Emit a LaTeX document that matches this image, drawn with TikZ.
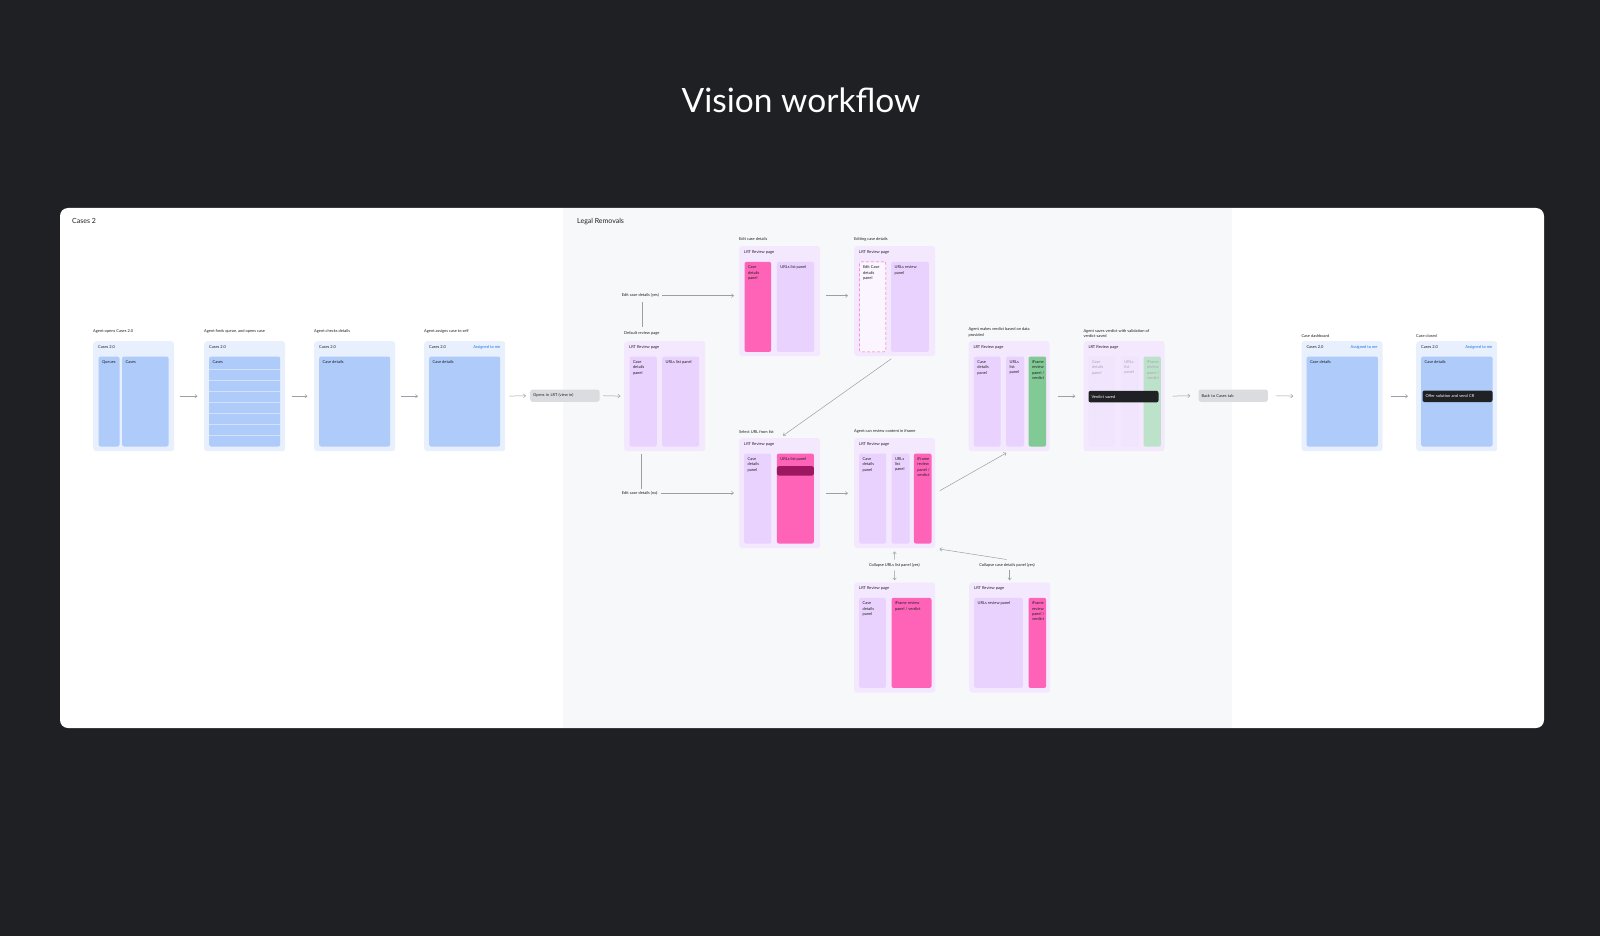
\documentclass[tikz,border=0pt]{standalone}
\usepackage{fontspec}
\setmainfont{Lato}
\usetikzlibrary{arrows.meta, positioning, calc}
\definecolor{canvas}{HTML}{1F2024}
\definecolor{legalbg}{HTML}{F7F8FA}
\definecolor{cardblue}{HTML}{E8F0FE}
\definecolor{panelblue}{HTML}{AECBFA}
\definecolor{cardlilac}{HTML}{F3E8FD}
\definecolor{panellilac}{HTML}{E9D2FD}
\definecolor{fadelilac}{HTML}{F1E4FD}
\definecolor{hotpink}{HTML}{FF63B8}
\definecolor{deeppink}{HTML}{9C1660}
\definecolor{verdictgreen}{HTML}{81C995}
\definecolor{fadegreen}{HTML}{BCE2C9}
\definecolor{ink}{HTML}{202124}
\definecolor{fadeink}{HTML}{ADA3B8}
\definecolor{btngray}{HTML}{DADCE0}
\definecolor{linkgray}{HTML}{9AA0A6}
\definecolor{gblue}{HTML}{1A73E8}

\begin{document}
\begin{tikzpicture}[
    x=1pt, y=-1pt,
    font=\fontsize{4}{5.3}\selectfont,
    card/.style   ={anchor=north west, inner sep=0pt, minimum width=81pt,
                    minimum height=110pt, rounded corners=3pt},
    bcard/.style  ={card, fill=cardblue},
    pcard/.style  ={card, fill=cardlilac},
    ctitle/.style ={anchor=north west, inner xsep=5pt, inner ysep=4.5pt, text=ink},
    ctag/.style   ={anchor=north east, inner xsep=5pt, inner ysep=4.5pt, text=gblue},
    clabel/.style ={anchor=west, inner sep=0pt, text=ink, align=left},
    panel/.style  ={anchor=north west, inner sep=0pt, minimum height=90pt,
                    rounded corners=2pt},
    bpanel/.style ={panel, fill=panelblue},
    lpanel/.style ={panel, fill=panellilac},
    hpanel/.style ={panel, fill=hotpink},
    gpanel/.style ={panel, fill=verdictgreen},
    dpanel/.style ={panel, fill=white!55!cardlilac, draw=hotpink,
                    densely dashed, line width=0.45pt},
    ptext/.style  ={anchor=north west, align=left, inner xsep=3.5pt,
                    inner ysep=4pt, text=ink},
    bar/.style    ={anchor=north west, inner xsep=3pt, inner ysep=0pt,
                    minimum height=11.5pt, rounded corners=2pt, align=left,
                    fill=ink, text=white},
    btn/.style    ={bar, fill=btngray, text=ink, minimum height=12.3pt,
                    rounded corners=2.5pt},
    seclabel/.style={anchor=west, inner sep=0pt, text=ink,
                    font=\fontsize{7}{8}\selectfont},
    flow/.style   ={-{Straight Barb[length=2.2pt, width=3.6pt]},
                    draw=linkgray, line width=0.5pt},
    link/.style   ={draw=linkgray, line width=0.5pt},
  ]
  \useasboundingbox (0,0) rectangle (1600,936);
  \fill[canvas] (0,0) rectangle (1600,936);

  % ---- title and sheet ----
  \node[text=white, font=\fontsize{33.5}{40}\selectfont] (title) at (801,100) {Vision workflow};
  \fill[white, rounded corners=8pt] (60,208) rectangle (1544,728);
  \fill[legalbg] (563,208) rectangle (1232,728);
  \node[seclabel] (casessec) at (72,221) {Cases 2};
  \node[seclabel] (legalsec) at (577,222) {Legal Removals};

  % ---- Cases 2: opening the case ----
  \node[clabel] (openlbl) at (93,331) {Agent opens Cases 2.0};
  \node[bcard, label={[ctitle]north west:Cases 2.0}] (opencard) at (93,341) {};
  \node[bpanel, minimum width=21pt, label={[ptext]north west:Queues}] (queues) at (98.3,356.3) {};
  \node[bpanel, minimum width=46.3pt, label={[ptext]north west:Cases}] (caselist) at (122,356.3) {};

  \node[clabel] (findlbl) at (204,331) {Agent finds queue, and opens case};
  \node[bcard, label={[ctitle]north west:Cases 2.0}] (findcard) at (204,341) {};
  \node[bpanel, minimum width=71pt, label={[ptext]north west:Cases}] (findpanel) at (209,356.3) {};
  \foreach \y in {369.3,380.3,...,436}
    \draw[white!45!panelblue, line width=0.3pt] (findpanel.west |- 0,\y) -- (findpanel.east |- 0,\y);

  \node[clabel] (checklbl) at (314,331) {Agent checks details};
  \node[bcard, label={[ctitle]north west:Cases 2.0}] (checkcard) at (314,341) {};
  \node[bpanel, minimum width=71pt, label={[ptext]north west:Case details}] (checkpanel) at (319,356.3) {};

  \node[clabel] (assignlbl) at (424,331) {Agent assigns case to self};
  \node[bcard, label={[ctitle]north west:Cases 2.0},
        label={[ctag]north east:Assigned to me}] (assigncard) at (424,341) {};
  \node[bpanel, minimum width=71pt, label={[ptext]north west:Case details}] (assignpanel) at (429,356.3) {};

  \node[btn, text width=63.5pt] (viewbtn) at (530,389.3) {Opens in LRT (view in)};

  \draw[flow, shorten <=6pt, shorten >=6.5pt] (opencard.east) -- (findcard.west);
  \draw[flow, shorten <=6.5pt, shorten >=6.5pt] (findcard.east) -- (checkcard.west);
  \draw[flow, shorten <=6pt, shorten >=6pt] (checkcard.east) -- (assigncard.west);
  \draw[flow, shorten <=4pt, shorten >=4pt] (assigncard.east) -- (viewbtn.west);

  % ---- Legal Removals: review pages ----
  \node[clabel] (defaultlbl) at (624,333.7) {Default review page};
  \node[pcard, label={[ctitle]north west:LRT Review page}] (defaultcard) at (624,341) {};
  \node[lpanel, minimum width=27.4pt, label={[ptext]north west:Case\\details\\panel}] (defcase) at (629.3,356.3) {};
  \node[lpanel, minimum width=37pt, label={[ptext]north west:URLs list panel}] (defurls) at (662,356.3) {};

  \node[clabel] (editlbl) at (739,239.3) {Edit case details};
  \node[pcard, label={[ctitle]north west:LRT Review page}] (editcard) at (739,246) {};
  \node[hpanel, minimum width=26.7pt, label={[ptext]north west:Case\\details\\panel}] (editcase) at (744.3,261.7) {};
  \node[lpanel, minimum width=37.3pt, label={[ptext]north west:URLs list panel}] (editurls) at (776.7,261.7) {};

  \node[clabel] (editinglbl) at (854,239.3) {Editing case details};
  \node[pcard, label={[ctitle]north west:LRT Review page}] (editingcard) at (854,246) {};
  \node[dpanel, minimum width=26.4pt, label={[ptext]north west:Edit Case\\details\\panel}] (editingcase) at (859.3,261.7) {};
  \node[lpanel, minimum width=37.7pt, label={[ptext]north west:URLs review\\panel}] (editingurls) at (891,261.7) {};

  \node[clabel] (selectlbl) at (739,431.7) {Select URL from list};
  \node[pcard, label={[ctitle]north west:LRT Review page}] (selectcard) at (739,438) {};
  \node[lpanel, minimum width=27pt, label={[ptext]north west:Case\\details\\panel}] (selcase) at (744,453.3) {};
  \node[hpanel, minimum width=37pt, label={[ptext]north west:URLs list panel}] (selurls) at (776.7,453.3) {};
  \node[panel, fill=deeppink, minimum width=37pt, minimum height=9.3pt] (selrow) at (776.7,466) {};

  \node[clabel] (iframelbl) at (854,431.7) {Agent can review content in iframe};
  \node[pcard, label={[ctitle]north west:LRT Review page}] (iframecard) at (854,438) {};
  \node[lpanel, minimum width=27pt, label={[ptext]north west:Case\\details\\panel}] (ifrcase) at (859,453.3) {};
  \node[lpanel, minimum width=18pt, label={[ptext]north west:URLs\\list\\panel}] (ifrurls) at (891.3,453.3) {};
  \node[hpanel, minimum width=17.6pt, label={[ptext]north west:iFrame\\review\\panel /\\verdict}] (ifrview) at (913.7,453.3) {};

  \node[pcard, label={[ctitle]north west:LRT Review page}] (urlshidden) at (854,582.3) {};
  \node[lpanel, minimum width=26.7pt, label={[ptext]north west:Case\\details\\panel}] (uhcase) at (859,597.7) {};
  \node[hpanel, minimum width=40pt, label={[ptext]north west:iFrame review\\panel / verdict}] (uhview) at (891.3,597.7) {};

  \node[pcard, label={[ctitle]north west:LRT Review page}] (casehidden) at (969,582.3) {};
  \node[lpanel, minimum width=48.7pt, label={[ptext]north west:URLs review panel}] (churls) at (974,597.7) {};
  \node[hpanel, minimum width=17.7pt, label={[ptext]north west:iFrame\\review\\panel /\\verdict}] (chview) at (1028.3,597.7) {};

  % ---- verdict and hand back ----
  \node[clabel] (verdictlbl) at (968.3,332.5) {Agent makes verdict based on data\\provided};
  \node[pcard, label={[ctitle]north west:LRT Review page}] (verdictcard) at (968.3,341) {};
  \node[lpanel, minimum width=26.6pt, label={[ptext]north west:Case\\details\\panel}] (vcase) at (973.7,356.3) {};
  \node[lpanel, minimum width=18pt, label={[ptext]north west:URLs\\list\\panel}] (vurls) at (1006,356.3) {};
  \node[gpanel, minimum width=17.7pt, label={[ptext]north west:iFrame\\review\\panel /\\verdict}] (vview) at (1028.3,356.3) {};

  \node[clabel] (savedlbl) at (1083.3,333.5) {Agent saves verdict with validation of\\verdict saved};
  \node[pcard, label={[ctitle]north west:LRT Review page}] (savedcard) at (1083.3,341) {};
  \node[panel, fill=fadelilac, minimum width=26.7pt,
        label={[ptext, text=fadeink]north west:Case\\details\\panel}] (scase) at (1088.3,356.3) {};
  \node[panel, fill=fadelilac, minimum width=18pt,
        label={[ptext, text=fadeink]north west:URLs\\list\\panel}] (surls) at (1120.7,356.3) {};
  \node[panel, fill=fadegreen, minimum width=17.4pt,
        label={[ptext, text=fadeink]north west:iFrame\\review\\panel /\\verdict}] (sview) at (1143.3,356.3) {};
  \node[bar, text width=64pt] (savedbar) at (1088.3,390.7) {Verdict saved};

  \node[btn, text width=63.4pt] (backbtn) at (1198.3,389.3) {Back to Cases tab};

  \node[clabel] (dashlbl) at (1301.3,336) {Case dashboard};
  \node[bcard, label={[ctitle]north west:Cases 2.0},
        label={[ctag]north east:Assigned to me}] (dashcard) at (1301.3,341) {};
  \node[bpanel, minimum width=71.4pt, label={[ptext]north west:Case details}] (dashpanel) at (1306.3,356.3) {};

  \node[clabel] (closedlbl) at (1416,336) {Case closed};
  \node[bcard, label={[ctitle]north west:Cases 2.0},
        label={[ctag]north east:Assigned to me}] (closedcard) at (1416,341) {};
  \node[bpanel, minimum width=71.3pt, label={[ptext]north west:Case details}] (closedpanel) at (1421,356.3) {};
  \node[bar, text width=64pt] (offerbar) at (1422.3,390.3) {Offer solution and send CR};

  % ---- branch labels ----
  \node[clabel] (edityes) at (621.7,295.7) {Edit case details (yes)};
  \node[clabel] (editno) at (621.7,493) {Edit case details (no)};
  \node[text=ink] (collurls) at (894.3,565) {Collapse URLs list panel (yes)};
  \node[text=ink] (collcase) at (1007,565) {Collapse case details panel (yes)};

  % ---- connectors ----
  \draw[flow, shorten <=3.5pt, shorten >=3.5pt] (viewbtn.east) -- (defaultcard.west);
  \draw[link, shorten <=4pt, shorten >=5pt] ([xshift=2pt]edityes.south) -- ([xshift=2pt]edityes.south |- defaultlbl.north);
  \draw[link, shorten <=1.5pt, shorten >=3pt] ([xshift=2pt]editno.north) -- ([xshift=2pt]editno.north |- defaultcard.south);
  \draw[flow, shorten <=3pt, shorten >=5pt] (edityes.east) -- (edityes.east -| editcard.west);
  \draw[flow, shorten <=3.5pt, shorten >=5pt] (editno.east) -- (editno.east -| selectcard.west);
  \draw[flow, shorten <=6pt, shorten >=6pt] (editcard.east |- edityes) -- (editingcard.west |- edityes);
  \draw[flow, shorten <=6pt, shorten >=6pt] (selectcard.east) -- (iframecard.west);
  \draw[flow, shorten <=4pt, shorten >=4pt] (editingcard.south) -- (selectcard.north);
  \draw[flow, shorten <=5pt, shorten >=3pt] (iframecard.east) -- (verdictcard.south);
  \draw[flow, shorten >=3pt] (collurls.north) -- (iframecard.south);
  \draw[flow, shorten >=2pt] (collurls.south) -- (urlshidden.north);
  \draw[flow, shorten >=2pt] (collcase.south -| casehidden.north) -- (casehidden.north);
  \draw[flow, shorten <=0.5pt, shorten >=4pt] (collcase.north) -- (iframecard.south east);
  \draw[flow, shorten <=8pt, shorten >=8pt] (verdictcard.east) -- (savedcard.west);
  \draw[flow, shorten <=8pt, shorten >=8pt] (savedcard.east) -- (backbtn.west);
  \draw[flow, shorten <=8pt, shorten >=8pt] (backbtn.east) -- (dashcard.west);
  \draw[flow, shorten <=8pt, shorten >=8pt] (dashcard.east) -- (closedcard.west);

\end{tikzpicture}
\end{document}
